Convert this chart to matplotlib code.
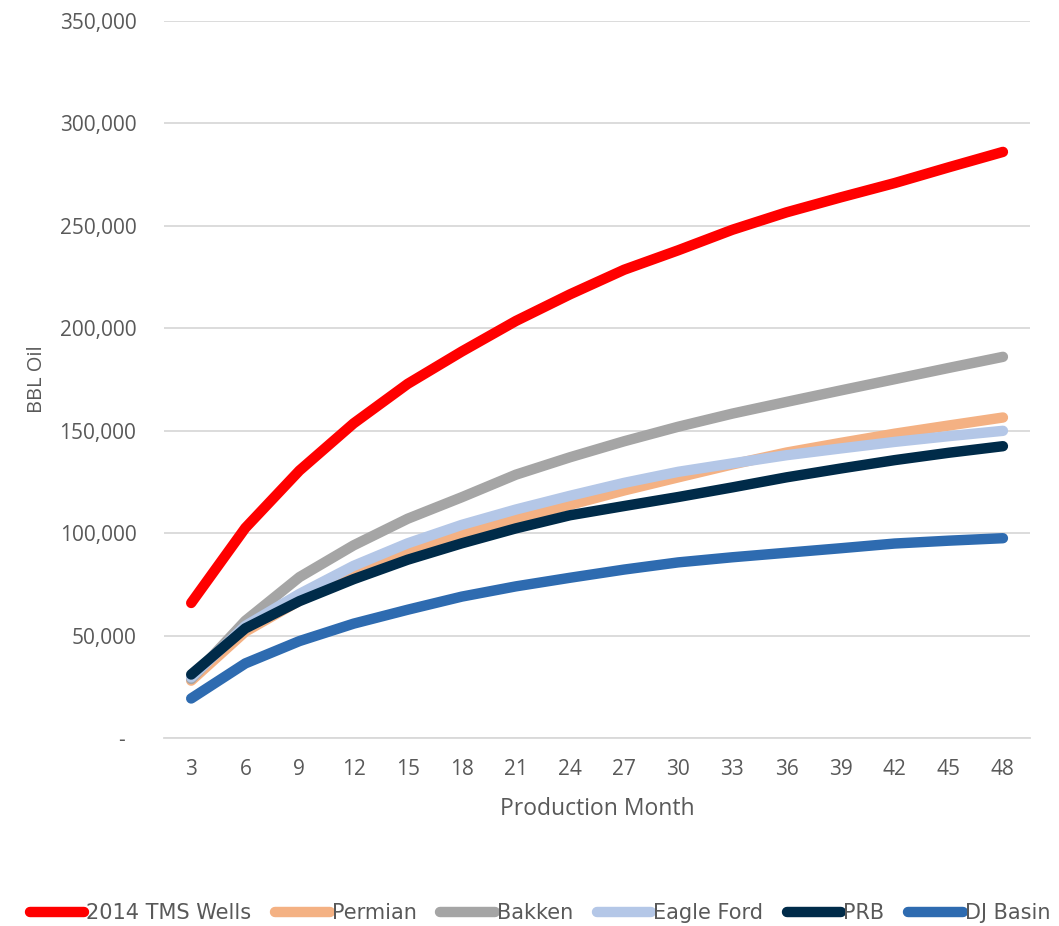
import matplotlib
matplotlib.use("Agg")
import matplotlib.pyplot as plt
from matplotlib.ticker import FuncFormatter, MultipleLocator
from matplotlib.lines import Line2D

months = [3, 6, 9, 12, 15, 18, 21, 24, 27, 30, 33, 36, 39, 42, 45, 48]
tms = [65900, 102500, 130500, 153500, 172800, 188600, 203500, 216500, 228500, 238000, 248000, 256500, 263800, 270800, 278500, 286000]
permian = [28000, 51900, 67000, 80000, 90500, 99300, 106800, 113800, 120800, 127200, 133500, 139300, 144000, 148500, 152500, 156400]
bakken = [28800, 57200, 78500, 94000, 107000, 117500, 128500, 137000, 144800, 151900, 158300, 164000, 169600, 175100, 180600, 186000]
eagle_ford = [29600, 54700, 70300, 84000, 95000, 104000, 111500, 118200, 124500, 129900, 134000, 138000, 141300, 144500, 147300, 149900]
prb = [31000, 53500, 66800, 77500, 87000, 95000, 102300, 108700, 113200, 117600, 122300, 127200, 131500, 135600, 139200, 142400]
dj_basin = [19300, 36400, 47300, 55800, 62600, 69000, 74000, 78200, 82200, 85700, 88200, 90400, 92600, 94900, 96300, 97500]

series = [
    ("2014 TMS Wells", tms, "#FF0000"),
    ("Permian", permian, "#F4B183"),
    ("Bakken", bakken, "#A5A5A5"),
    ("Eagle Ford", eagle_ford, "#B4C7E7"),
    ("PRB", prb, "#002B49"),
    ("DJ Basin", dj_basin, "#2E6BB0"),
]

fig = plt.figure(figsize=(10.59, 9.26), dpi=100)
ax = fig.add_axes([0.155, 0.203, 0.8176, 0.7746])

xs = list(range(len(months)))
for name, vals, col in series:
    ax.plot(xs, vals, color=col, lw=7.5, solid_capstyle="round", solid_joinstyle="round", label=name)

ax.set_xlim(-0.5, len(months) - 0.5)
ax.set_ylim(0, 350000)
ax.yaxis.set_major_locator(MultipleLocator(50000))
ax.yaxis.set_major_formatter(FuncFormatter(lambda v, p: "-  " if v == 0 else f"{int(v):,}"))
ax.set_xticks(xs)
ax.set_xticklabels([str(m) for m in months])

tick_font = "Open Sans"
for lbl in ax.get_xticklabels() + ax.get_yticklabels():
    lbl.set_fontfamily(tick_font)
    lbl.set_fontsize(15)
    lbl.set_color("#595959")

ax.grid(axis="y", color="#D9D9D9", lw=1.3)
ax.set_axisbelow(True)
for s in ["top", "right", "left"]:
    ax.spines[s].set_visible(False)
ax.spines["bottom"].set_color("#D9D9D9")
ax.spines["bottom"].set_linewidth(1.3)
ax.tick_params(axis="x", length=0, pad=15)
ax.tick_params(axis="y", length=0, pad=20)

ax.set_xlabel("Production Month", fontfamily=tick_font, fontsize=16.5, color="#595959", labelpad=12)
ax.set_ylabel("BBL Oil", fontfamily=tick_font, fontsize=14.5, color="#595959", labelpad=9)

handles = [Line2D([0], [0], color=c, lw=7.5, solid_capstyle="round") for _, _, c in series]
labels = [n for n, _, _ in series]
leg = fig.legend(handles, labels, loc="center", bbox_to_anchor=(0.51, 0.014), ncol=6, frameon=False,
                 handlelength=2.6, handletextpad=0.1, columnspacing=1.15,
                 prop={"family": ["Liberation Sans Narrow", "DejaVu Sans Condensed", "DejaVu Sans"], "size": 15})
for t in leg.get_texts():
    t.set_color("#595959")

fig.savefig("out.png", dpi=100)
